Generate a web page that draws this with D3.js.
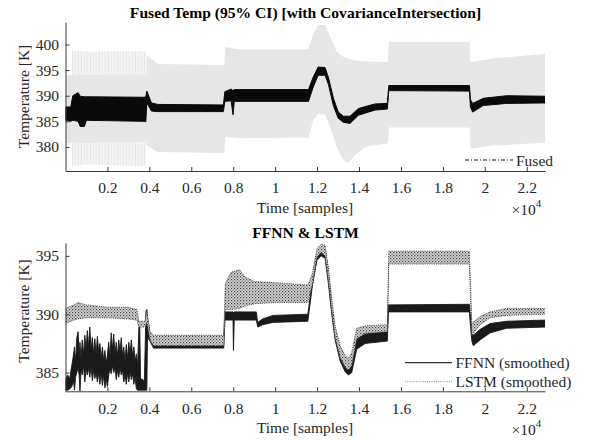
<!DOCTYPE html>
<html><head><meta charset="utf-8">
<script src="https://cdn.jsdelivr.net/npm/d3@7"></script>
<style>
html,body{margin:0;padding:0;background:#fff;}
svg{display:block;}
text{font-family:"Liberation Serif","Times New Roman",serif;fill:#262626;}
</style>
</head><body><div id="chart"></div>
<script>
// ---------- data (samples / Kelvin) ----------
const xTickValues = [2000,4000,6000,8000,10000,12000,14000,16000,18000,20000,22000];
const xTickLabels = ["0.2","0.4","0.6","0.8","1","1.2","1.4","1.6","1.8","2","2.2"];
const topYTicks = [380,385,390,395,400];
const botYTicks = [385,390,395];

// 95% CI band (top)
const ciX  = [0,300,3850,3880,4400,7580,7620,8200,11590,11820,12050,12380,12620,12940,13250,13490,13810,14290,15380,15420,19270,19310,20500,22870];
const ciHi = [394.0,394.0,394.2,397.9,396.2,396.0,399.5,399.1,399.1,402.1,403.8,403.8,401.5,398.6,397.6,397.2,396.9,396.7,396.6,400.5,400.5,396.6,397.3,398.2];
const ciLo = [380.7,380.7,381.0,380.3,379.0,378.8,382.0,381.7,381.8,385.2,386.5,386.3,383.9,380.0,377.4,376.8,378.4,380.0,380.7,383.8,383.8,379.7,380.3,380.8];
// spiky outer CI envelope in the first segment
const ciOuterX  = [300,1200,2400,3850];
const ciOuterHi = [398.8,398.6,398.7,398.7];
const ciOuterLo = [376.3,376.6,376.4,376.3];

// Fused estimate envelope
const fusedX  = [0,250,350,600,700,900,1000,3750,3830,3880,4100,4400,7530,7600,7900,7990,8050,11590,11800,12050,12380,12540,12780,13010,13250,13570,13970,14760,15350,15420,19270,19310,19420,19930,21040,22870];
const fusedHi = [387.8,387.8,390.0,390.6,389.9,389.8,389.8,389.7,389.8,390.9,388.6,388.3,388.2,390.8,391.3,391.0,391.2,391.2,393.5,395.6,395.5,393.6,389.5,386.8,386.0,386.0,387.5,388.4,388.5,392.0,392.0,389.3,388.5,389.5,390.0,389.9];
const fusedLo = [385.2,385.0,385.2,385.0,384.0,384.0,385.2,385.0,384.9,388.6,387.0,386.9,386.9,388.9,389.0,386.3,388.9,388.9,391.5,394.0,394.0,392.2,388.0,385.6,384.8,384.6,386.2,387.2,387.4,391.0,390.9,387.8,386.8,388.1,388.5,388.6];

// FFNN (smoothed) envelope
const ffnnX  = [0,100,200,300,380,430,480,540,600,650,690,740,800,860,920,980,1040,1100,1160,1220,1280,1340,1400,1460,1520,1580,1640,1700,1760,1820,1880,1940,2000,2060,2120,2180,2240,2300,2360,2420,2480,2540,2600,2660,2720,2780,2840,2900,2960,3020,3080,3140,3200,3260,3320,3380,3440,3500,3540,3580,3760,3840,3880,3910,4030,4200,7550,7600,7990,8010,8050,9100,9170,9400,9900,11560,11780,11990,12190,12380,12540,12700,12860,13100,13330,13490,13650,13890,14290,15350,15400,19260,19380,19450,19770,20250,21040,22870];
const ffnnHi = [384.4,384.8,384.5,385.6,386.5,387.2,386.0,388.0,388.5,386.6,387.6,386.2,387.8,386.5,388.2,387.0,388.6,387.2,388.9,387.0,388.0,386.6,387.9,386.5,388.1,386.8,387.5,386.2,387.2,386.0,386.9,385.8,386.5,387.6,386.4,388.4,387.0,388.3,386.6,387.6,386.4,387.8,386.8,388.0,386.4,387.2,386.0,387.4,386.2,387.6,386.6,387.8,386.4,387.2,386.0,386.6,385.6,388.9,389.2,384.5,384.3,390.3,390.4,389.7,388.4,388.0,388.0,390.2,390.2,390.1,390.2,390.2,389.3,389.6,389.9,390.0,393.1,395.2,395.8,395.6,393.6,390.8,388.5,386.8,386.0,385.6,386.2,387.9,388.3,388.5,390.8,390.85,388.5,388.2,388.7,389.2,389.4,389.5];
const ffnnLo = [383.5,383.5,383.6,383.8,384.3,383.5,384.6,385.0,385.4,384.8,383.4,385.2,384.8,385.6,384.2,385.3,384.8,385.4,384.6,385.6,384.3,385.2,384.5,385.0,384.2,385.0,384.0,385.0,383.9,384.8,383.7,384.4,383.8,384.8,385.3,384.9,385.6,385.0,385.4,384.4,385.2,384.6,385.4,384.8,385.2,384.2,384.8,384.0,385.0,384.2,385.1,384.4,384.9,384.0,384.6,383.6,383.5,383.5,383.5,383.5,383.5,383.5,383.5,388.0,387.7,387.1,387.1,389.5,389.5,386.9,389.5,389.5,388.9,389.1,389.3,389.4,392.5,394.6,395.0,394.8,392.6,390.0,387.8,386.0,385.1,384.8,385.0,387.0,387.5,387.7,390.2,390.2,387.7,387.3,387.8,388.4,388.8,388.9];

// LSTM (smoothed) envelope
const lstmX  = [0,400,600,1000,2000,3000,3400,3500,3800,3880,4030,4200,7550,7620,7900,8300,8560,9000,10000,11560,11780,11990,12190,12380,12540,12700,12860,13100,13330,13490,13650,13890,14290,15350,15420,19260,19380,19770,20250,21040,22870];
const lstmHi = [390.5,390.8,391.0,390.8,390.6,390.6,390.4,389.4,389.4,390.3,388.5,388.2,388.2,392.6,393.6,393.8,393.2,392.8,392.7,392.5,393.5,395.6,396.0,395.9,394.0,391.3,389.0,387.3,386.5,386.2,386.7,388.8,389.0,389.1,395.4,395.4,389.2,389.8,390.2,390.5,390.5];
const lstmLo = [389.2,389.5,389.6,389.7,389.7,389.6,389.5,388.9,388.9,389.3,387.8,387.3,387.3,390.4,390.4,390.5,390.7,390.9,391.0,391.0,392.6,394.9,395.3,395.0,392.9,390.3,388.0,386.3,385.5,385.2,385.6,387.9,388.4,388.5,394.3,394.3,388.2,389.1,389.7,389.9,390.0];

const topTitle = "Fused Temp (95% CI) [with CovarianceIntersection]";
const botTitle = "FFNN & LSTM";
const xLabel = "Time [samples]";
const yLabel = "Temperature [K]";

// ---------- drawing ----------
const W = 589, H = 442;
const svg = d3.select("#chart").append("svg").attr("width", W).attr("height", H);
const defs = svg.append("defs");

const dots = defs.append("pattern").attr("id","dots").attr("width",3).attr("height",3).attr("patternUnits","userSpaceOnUse");
dots.append("rect").attr("width",3).attr("height",3).attr("fill","#d8d8d8");
dots.append("rect").attr("x",0).attr("y",0).attr("width",1.2).attr("height",1.2).attr("fill","#3c3c3c");
dots.append("rect").attr("x",1.5).attr("y",1.5).attr("width",1.2).attr("height",1.2).attr("fill","#6a6a6a");

const stripes = defs.append("pattern").attr("id","stripes").attr("width",9).attr("height",400).attr("patternUnits","userSpaceOnUse");
stripes.append("rect").attr("width",9).attr("height",400).attr("fill","#f6f6f6");
stripes.append("rect").attr("x",0).attr("width",1).attr("height",400).attr("fill","#e4e4e4");
stripes.append("rect").attr("x",2.5).attr("width",1.5).attr("height",400).attr("fill","#ececec");
stripes.append("rect").attr("x",5.5).attr("width",1).attr("height",400).attr("fill","#e6e6e6");
stripes.append("rect").attr("x",7.5).attr("width",0.8).attr("height",400).attr("fill","#eeeeee");

const x = d3.scaleLinear().domain([0,22870]).range([65.5,545]);
const yTop = d3.scaleLinear().domain([375.3,404.4]).range([171,22]);
const yBot = d3.scaleLinear().domain([383.4,396.1]).range([391.3,243]);

function clip(id, y){
  defs.append("clipPath").attr("id",id).append("rect")
    .attr("x",x.range()[0]).attr("y",y.range()[1])
    .attr("width",x.range()[1]-x.range()[0]).attr("height",y.range()[0]-y.range()[1]);
}
clip("cTop", yTop); clip("cBot", yBot);

function band(X, Hi, Lo, y){
  return d3.area().x(i=>x(X[i])).y0(i=>y(Lo[i])).y1(i=>y(Hi[i]))(d3.range(X.length));
}
function edge(X, V, y){
  return d3.line().x(i=>x(X[i])).y(i=>y(V[i]))(d3.range(X.length));
}

// top plot
const gT = svg.append("g").attr("clip-path","url(#cTop)");
gT.append("path").attr("d", band(ciOuterX, ciOuterHi, ciOuterLo, yTop)).attr("fill","url(#stripes)");
gT.append("path").attr("d", band(ciX, ciHi, ciLo, yTop)).attr("fill","#e6e6e6");
gT.append("path").attr("d", band(fusedX, fusedHi, fusedLo, yTop)).attr("fill","#0a0a0a").attr("stroke","#0a0a0a").attr("stroke-width",1);

// bottom plot
const gB = svg.append("g").attr("clip-path","url(#cBot)");
gB.append("path").attr("d", band(ffnnX, ffnnHi, ffnnLo, yBot)).attr("fill","#1a1a1a").attr("stroke","#1a1a1a").attr("stroke-width",0.9);
gB.append("path").attr("d", band(lstmX, lstmHi, lstmLo, yBot)).attr("fill","url(#dots)");
gB.append("path").attr("d", edge(lstmX, lstmHi, yBot)).attr("fill","none").attr("stroke","#444").attr("stroke-width",1).attr("stroke-dasharray","1,1.2");
gB.append("path").attr("d", edge(lstmX, lstmLo, yBot)).attr("fill","none").attr("stroke","#444").attr("stroke-width",1).attr("stroke-dasharray","1,1.2");

// axes
function axes(y, yTicks, title, titleY, labelCenter){
  const by = y.range()[0];
  const ax = svg.append("g").attr("transform",`translate(0,${by})`)
    .call(d3.axisBottom(x).tickValues(xTickValues).tickSize(-4).tickSizeOuter(0)
      .tickFormat((d,i)=>xTickLabels[i]));
  ax.selectAll("text").attr("y",22.3).attr("dy","0").style("font-size","15.5px").attr("fill","#262626");
  const ay = svg.append("g").attr("transform",`translate(${x.range()[0]},0)`)
    .call(d3.axisLeft(y).tickValues(yTicks).tickSize(-4).tickSizeOuter(0).tickPadding(6.5).tickFormat(d3.format("d")));
  ay.selectAll("text").style("font-size","15.5px").attr("fill","#262626");
  [ax, ay].forEach(g=>{
    g.attr("font-family",null);
    g.select(".domain").attr("stroke","#3a3a3a");
    g.selectAll(".tick line").attr("stroke","#3a3a3a");
  });
  svg.append("text").attr("x",305.5).attr("y",titleY).attr("text-anchor","middle")
    .style("font-size","15.6px").style("font-weight","bold").style("fill","#000").text(title);
  svg.append("text").attr("x",305).attr("y",by+42).attr("text-anchor","middle")
    .style("font-size","15.5px").text(xLabel);
  svg.append("text").attr("transform",`translate(29,${labelCenter}) rotate(-90)`).attr("text-anchor","middle")
    .style("font-size","15.5px").text(yLabel);
  const e = svg.append("text").attr("x",511.5).attr("y",by+43.5).style("font-size","15.5px");
  e.append("tspan").text("\u00d710");
  e.append("tspan").attr("dy",-8).style("font-size","11px").text("4");
}
axes(yTop, topYTicks, topTitle, 17.5, 96.5);
axes(yBot, botYTicks, botTitle, 237.5, 311);

// legends
svg.append("line").attr("x1",465).attr("x2",513).attr("y1",160).attr("y2",160)
  .attr("stroke","#111").attr("stroke-width",1.1).attr("stroke-dasharray","4,2,1,2");
svg.append("text").attr("x",516).attr("y",165.5).style("font-size","15.5px").text("Fused");

svg.append("line").attr("x1",405).attr("x2",452).attr("y1",362.7).attr("y2",362.7)
  .attr("stroke","#333").attr("stroke-width",1.2);
svg.append("text").attr("x",455.5).attr("y",368.3).style("font-size","15.5px").text("FFNN (smoothed)");
svg.append("line").attr("x1",405).attr("x2",452).attr("y1",381.7).attr("y2",381.7)
  .attr("stroke","#888").attr("stroke-width",1).attr("stroke-dasharray","1,1.2");
svg.append("text").attr("x",455.5).attr("y",386.7).style("font-size","15.5px").text("LSTM (smoothed)");
</script></body></html>
